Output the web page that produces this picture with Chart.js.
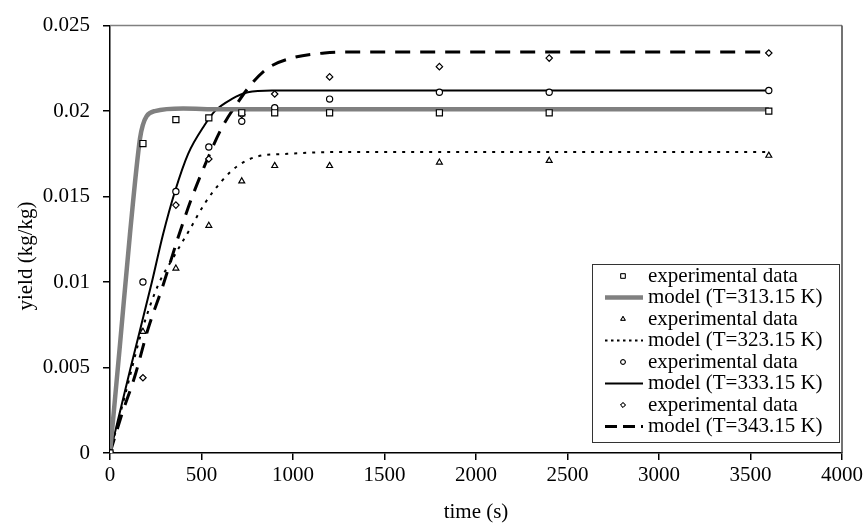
<!DOCTYPE html>
<html>
<head>
<meta charset="utf-8">
<script src="https://cdn.jsdelivr.net/npm/chart.js@4.4.1/dist/chart.umd.min.js"></script>
<style>
  body { margin: 0; background: #fff; }
</style>
</head>
<body>
<canvas id="myChart" width="866" height="525"></canvas>
<script>
      // experimental data (same sampling times for all temperatures)
      const expTime = [0, 180, 360, 540, 720, 900, 1200, 1800, 2400, 3600];
      const exp313 = [0, 0.0181, 0.0195, 0.0196, 0.0199, 0.0199, 0.0199, 0.0199, 0.0199, 0.02];
      const exp323 = [0, 0.0071, 0.0108, 0.0133, 0.0159, 0.0168, 0.0168, 0.017, 0.0171, 0.0174];
      const exp333 = [0, 0.01, 0.0153, 0.0179, 0.0194, 0.0202, 0.0207, 0.0211, 0.0211, 0.0212];
      const exp343 = [0, 0.0044, 0.0145, 0.0172, 0.0198, 0.021, 0.022, 0.0226, 0.0231, 0.0234];

      // model curves
      const model313Time = [0, 55, 109, 164, 180, 200, 245, 400, 600, 3600];
      const model313 = [0, 0.0064, 0.0128, 0.0184, 0.0192, 0.0197, 0.02, 0.02015, 0.0201, 0.0201];
      const model323Time = [0, 90, 173, 262, 355, 437, 518, 610, 698, 807, 970, 1200, 3600];
      const model323 = [0, 0.0037, 0.0071, 0.0098, 0.0116, 0.0131, 0.0146, 0.0159, 0.0168, 0.01735, 0.0175, 0.0176, 0.0176];
      const model333Time = [0, 113, 229, 290, 355, 427, 518, 573, 664, 753, 884, 1200, 3600];
      const model333 = [0, 0.005, 0.01, 0.0128, 0.0153, 0.0175, 0.0192, 0.02, 0.0207, 0.0211, 0.0212, 0.0212, 0.0212];
      const model343Time = [0, 63, 136, 209, 288, 372, 446, 533, 610, 698, 774, 861, 993, 1173, 1300, 3600];
      const model343 = [0, 0.0022, 0.0045, 0.0073, 0.00975, 0.0126, 0.0149, 0.0172, 0.019, 0.0205, 0.0216, 0.0225, 0.0231, 0.0234, 0.02345, 0.02345];

      const xTicks = [0, 500, 1000, 1500, 2000, 2500, 3000, 3500, 4000];
      const yTicks = [0, 0.005, 0.01, 0.015, 0.02, 0.025];

      const FONT = "Liberation Serif";

      const toPoints = (xs, ys) => xs.map((x, i) => ({ x: x, y: ys[i] }));

      const expStyle = (style, r) => ({
        showLine: false,
        pointStyle: style,
        pointRadius: r,
        pointBorderColor: "#000",
        pointBackgroundColor: "#fff",
        pointBorderWidth: 1.2,
        order: 0,
      });

      const modelStyle = (color, width, dash) => ({
        showLine: true,
        pointRadius: 0,
        borderColor: color,
        borderWidth: width,
        borderDash: dash,
        cubicInterpolationMode: "monotone",
        order: 1,
      });

      // setup
      const data = {
        datasets: [
          { label: "experimental data", data: toPoints(expTime, exp313), ...expStyle("rect", 4.3) },
          { label: "model (T=313.15 K)", data: toPoints(model313Time, model313), ...modelStyle("#808080", 4.5, []) },
          { label: "experimental data", data: toPoints(expTime, exp323), ...expStyle("triangle", 3.4) },
          { label: "model (T=323.15 K)", data: toPoints(model323Time, model323), ...modelStyle("#000", 2, [3, 6]) },
          { label: "experimental data", data: toPoints(expTime, exp333), ...expStyle("circle", 3.1) },
          { label: "model (T=333.15 K)", data: toPoints(model333Time, model333), ...modelStyle("#000", 2, []) },
          { label: "experimental data", data: toPoints(expTime, exp343), ...expStyle("rectRot", 3.2) },
          { label: "model (T=343.15 K)", data: toPoints(model343Time, model343), ...modelStyle("#000", 3, [15, 10]) },
        ],
      };

      // frame plugin block (top and right border of the plot)
      const frame = {
        id: "frame",
        beforeDatasetsDraw(chart) {
          const { ctx, chartArea: { top, bottom, left, right } } = chart;
          ctx.save();
          ctx.lineWidth = 1.5;
          ctx.strokeStyle = "#808080";
          ctx.beginPath();
          ctx.moveTo(left, top);
          ctx.lineTo(right, top);
          ctx.stroke();
          ctx.strokeStyle = "#444";
          ctx.beginPath();
          ctx.moveTo(right, top);
          ctx.lineTo(right, bottom);
          ctx.stroke();
          ctx.restore();
        },
      };

      // y title plugin block
      const yTitle = {
        id: "yTitle",
        afterDraw(chart) {
          const { ctx } = chart;
          ctx.save();
          ctx.translate(26, 256);
          ctx.rotate(-Math.PI / 2);
          ctx.font = "21px " + FONT;
          ctx.fillStyle = "#000";
          ctx.textAlign = "center";
          ctx.textBaseline = "middle";
          ctx.fillText("yield (kg/kg)", 0, 0);
          ctx.restore();
        },
      };

      // legend plugin block
      const boxLegend = {
        id: "boxLegend",
        afterDraw(chart) {
          const { ctx } = chart;
          const box = { left: 592, top: 264, right: 839, bottom: 442 };
          const rowTop = 276;
          const rowGap = 21.5;
          const symX = 623;
          ctx.save();
          ctx.fillStyle = "#fff";
          ctx.fillRect(box.left, box.top, box.right - box.left, box.bottom - box.top);
          ctx.lineWidth = 1;
          ctx.strokeStyle = "#333";
          ctx.strokeRect(box.left + 0.5, box.top + 0.5, box.right - box.left, box.bottom - box.top);

          ctx.font = "21px " + FONT;
          ctx.textBaseline = "middle";
          ctx.textAlign = "left";
          chart.data.datasets.forEach((ds, i) => {
            const y = rowTop + i * rowGap;
            if (ds.showLine) {
              ctx.save();
              ctx.strokeStyle = ds.borderColor;
              ctx.lineWidth = ds.borderWidth;
              ctx.setLineDash(ds.borderDash.length ? (ds.borderDash[0] > 5 ? [12, 6] : [2.5, 3.5]) : []);
              ctx.beginPath();
              ctx.moveTo(605, y);
              ctx.lineTo(643, y);
              ctx.stroke();
              ctx.restore();
            } else {
              Chart.helpers.drawPoint(ctx, {
                pointStyle: ds.pointStyle,
                radius: ds.pointRadius * 0.75,
                borderWidth: 1,
              }, symX, y);
              ctx.fillStyle = "#fff";
              ctx.strokeStyle = "#000";
              ctx.lineWidth = 1;
              ctx.fill();
              ctx.stroke();
            }
            ctx.fillStyle = "#000";
            ctx.fillText(ds.label, 648, y);
          });
          ctx.restore();
        },
      };

      // config
      const config = {
        type: "scatter",
        data,
        options: {
          responsive: false,
          animation: false,
          devicePixelRatio: 1,
          layout: {
            padding: { left: 0, right: 24, top: 24, bottom: 0 },
          },
          scales: {
            x: {
              type: "linear",
              min: 0,
              max: 4000,
              afterBuildTicks: (scale) => {
                scale.ticks = xTicks.map((v) => ({ value: v }));
              },
              afterFit: (scale) => {
                scale.height = 72;
              },
              ticks: {
                color: "#000",
                padding: 3,
                font: { family: FONT, size: 21 },
                callback: (v) => String(v),
              },
              grid: {
                drawOnChartArea: false,
                drawTicks: true,
                tickLength: 7,
                color: "#000",
                lineWidth: 1.5,
              },
              border: { color: "#000", width: 1.5 },
              title: {
                display: true,
                text: "time (s)",
                color: "#000",
                font: { family: FONT, size: 21 },
                padding: { top: 2, bottom: 0 },
              },
            },
            y: {
              type: "linear",
              min: 0,
              max: 0.025,
              afterBuildTicks: (scale) => {
                scale.ticks = yTicks.map((v) => ({ value: v }));
              },
              afterFit: (scale) => {
                scale.width = 110;
              },
              ticks: {
                color: "#000",
                padding: 13,
                font: { family: FONT, size: 21 },
                callback: (v) => String(+v.toFixed(3)),
              },
              grid: {
                drawOnChartArea: false,
                drawTicks: true,
                tickLength: 7,
                color: "#000",
                lineWidth: 1.5,
              },
              border: { color: "#000", width: 1.5 },
            },
          },
          plugins: {
            legend: { display: false },
            tooltip: { enabled: false },
          },
        },
        plugins: [frame, yTitle, boxLegend],
      };

      // render init block
      const myChart = new Chart(document.getElementById("myChart"), config);
</script>
</body>
</html>
